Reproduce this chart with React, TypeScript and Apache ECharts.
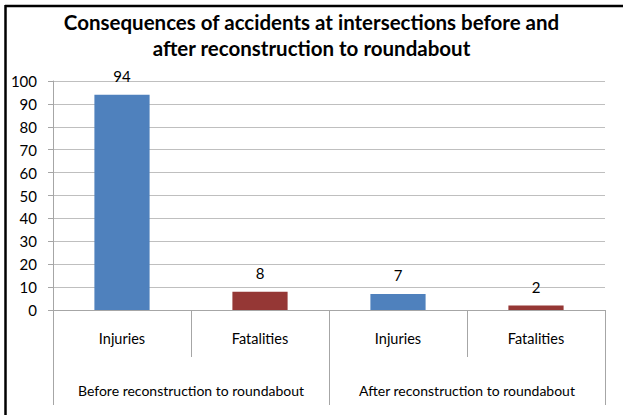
import React, { useEffect, useRef } from "react";
import * as echarts from "echarts";

const titleText = "Consequences of accidents at intersections before and\nafter reconstruction to roundabout";
const categories = ["Injuries", "Fatalities", "Injuries", "Fatalities"];
const groups = ["Before reconstruction to roundabout", "After reconstruction to roundabout"];
const values = [94, 8, 7, 2];
const barColors = ["#4f81bd", "#953735", "#4f81bd", "#953735"];

const FONT = "Lato";
const GRID_GRAY = "#bfbfbf";
const AXIS_GRAY = "#a6a6a6";

export default function App() {
  const ref = useRef<HTMLDivElement>(null);
  useEffect(() => {
    if (!ref.current) return;
    const chart = echarts.init(ref.current, undefined, { renderer: "svg" });
    chart.setOption({
      animation: false,
      backgroundColor: "#ffffff",
      title: {
        text: titleText,
        left: "center",
        top: 4,
        textStyle: {
          fontFamily: FONT,
          fontSize: 20.5,
          fontWeight: "bold",
          color: "#000",
          lineHeight: 26,
        },
      },
      grid: { left: 53, right: 18, top: 81, bottom: 107, containLabel: false },
      xAxis: [
        {
          type: "category",
          data: categories,
          position: "bottom",
          axisLine: { show: true, lineStyle: { color: AXIS_GRAY, width: 1 } },
          axisTick: { show: true, interval: 0, length: 47, lineStyle: { color: AXIS_GRAY } },
          axisLabel: { interval: 0, margin: 21, fontFamily: FONT, fontSize: 14.5, color: "#000" },
          splitLine: { show: false },
        },
        {
          type: "category",
          data: groups,
          position: "bottom",
          axisLine: { show: false },
          axisTick: { show: true, interval: 0, length: 95, lineStyle: { color: AXIS_GRAY } },
          axisLabel: { interval: 0, margin: 73, fontFamily: FONT, fontSize: 14, color: "#000" },
          splitLine: { show: false },
        },
      ],
      yAxis: {
        type: "value",
        min: 0,
        max: 100,
        interval: 10,
        axisLine: { show: true, lineStyle: { color: AXIS_GRAY } },
        axisTick: { show: true, length: 5, lineStyle: { color: AXIS_GRAY } },
        axisLabel: { margin: 16, fontFamily: FONT, fontSize: 15, color: "#000" },
        splitLine: { show: true, lineStyle: { color: GRID_GRAY, width: 1 } },
      },
      series: [
        {
          type: "bar",
          xAxisIndex: 0,
          barWidth: "40%",
          data: values.map((v, i) => ({ value: v, itemStyle: { color: barColors[i] } })),
          label: {
            show: true,
            position: "top",
            distance: 11,
            fontFamily: FONT,
            fontSize: 15,
            color: "#000",
          },
        },
      ],
      graphic: [
        { type: "line", shape: { x1: 5, y1: 6, x2: 623, y2: 6 }, style: { stroke: "#000", lineWidth: 2.5 } },
        { type: "line", shape: { x1: 5.5, y1: 5, x2: 5.5, y2: 415 }, style: { stroke: "#000", lineWidth: 2.5 } },
      ],
    });
    return () => chart.dispose();
  }, []);
  return <div ref={ref} style={{ position: "fixed", left: 0, top: 0, width: 623, height: 417 }} />;
}
